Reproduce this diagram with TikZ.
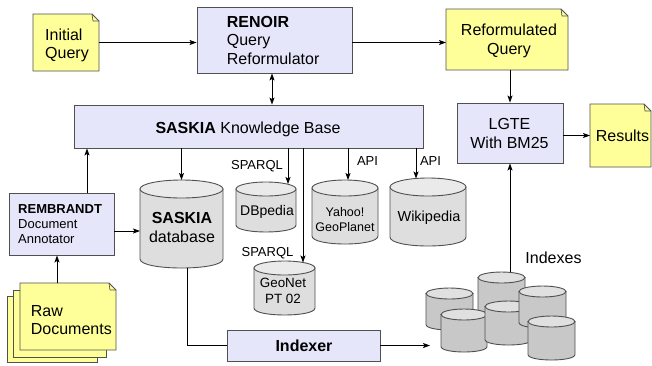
\documentclass[tikz,border=0pt]{standalone}
\usepackage{fontspec}
\setmainfont{Liberation Sans}
\usetikzlibrary{arrows.meta}

\definecolor{boxfill}{RGB}{230,230,250}
\definecolor{notefill}{RGB}{255,255,153}
\definecolor{edgegray}{RGB}{80,80,80}
\definecolor{dbbody}{RGB}{222,222,222}
\definecolor{dbtop}{RGB}{234,234,234}
\definecolor{ixbody}{RGB}{200,200,200}
\definecolor{ixtop}{RGB}{224,224,224}

\tikzset{
  frame/.style={draw=edgegray, line width=0.9pt},
  box/.style={frame, fill=boxfill, inner sep=0pt},
  notebody/.style={frame, fill=notefill, line join=miter},
  fold/.style={draw=edgegray, line width=0.7pt},
  tip/.tip={Stealth[length=7pt,width=5pt,inset=1.5pt]},
  arr/.style={-tip, line width=0.8pt},
  dblarr/.style={tip-tip, line width=0.8pt},
  plain/.style={line width=0.8pt},
  txt/.style={inner sep=0pt, font=\fontsize{16}{18.5}\selectfont},
  txtsm/.style={inner sep=0pt, font=\fontsize{13}{15.4}\selectfont},
  lbl/.style={inner sep=0pt, anchor=base, font=\fontsize{13}{15}\selectfont},
  hold/.style={inner sep=0pt, outer sep=0pt},
}

% note with a folded top-right corner: name, x1, y1, x2, y2
\newcommand\notenode[5]{%
  \draw[notebody] (#2,#3) -- ({#4-7},#3) -- (#4,{#3+7}) -- (#4,#5) -- (#2,#5) -- cycle;
  \draw[fold] ({#4-7},#3) -- ({#4-6},{#3+7}) -- (#4,{#3+7});
  \node[hold, minimum width={(#4-#2)*1pt}, minimum height={(#5-#3)*1pt}] (#1) at ({(#2+#4)/2},{(#3+#5)/2}) {};
}

% cylinder: name, x1, y1 (top), x2, y2 (bottom), half height of the end, colour set
\newcommand\dbcyl[7]{%
  \draw[frame, fill=#7body] (#2,{#3+#6}) -- (#2,{#5-#6}) .. controls (#2,{#5+#6/3}) and (#4,{#5+#6/3}) .. (#4,{#5-#6}) -- (#4,{#3+#6}) -- cycle;
  \draw[frame, fill=#7top] ({(#2+#4)/2},{#3+#6}) ellipse [x radius={(#4-#2)/2*1pt}, y radius={#6*1pt}];
  \node[hold, minimum width={(#4-#2)*1pt}, minimum height={(#5-#3)*1pt}] (#1) at ({(#2+#4)/2},{(#3+#5)/2}) {};
}

\begin{document}
\begin{tikzpicture}[x=1pt,y=-1pt]
\useasboundingbox (0,0) rectangle (652,365);

% ---- notes ----
\notenode{iq}{33}{14}{99}{71}
\node[txt, align=left, anchor=west] (iqtext) at (45,45.2) {Initial\\Query};

\notenode{rq}{446}{9}{568}{70}
\node[txt, align=center] (rqtext) at (509,41) {Reformulated\\Query};

\notenode{res}{590}{104}{651}{167}
\node[txt] (restext) at (622.5,136) {Results};

\draw[notebody] (7,296) rectangle (97,362);
\draw[notebody] (13,290) rectangle (106,357);
\notenode{raw}{20}{283}{116}{350}
\node[txt, align=left, anchor=west] (rawtext) at (30.7,320.2) {Raw\\Documents};

% ---- processing boxes ----
\node[box, minimum width=155pt, minimum height=66pt] (renoir) at (274.5,40) {};
\node[txt, align=left, anchor=west] (renoirtext) at (226.7,40) {\textbf{RENOIR}\\Query\\Reformulator};

\node[box, minimum width=349pt, minimum height=43pt] (kb) at (248.5,126.5) {};
\node[txt] (kbtext) at (248,129.3) {\textbf{SASKIA} Knowledge Base};

\node[box, minimum width=106pt, minimum height=60pt] (lgte) at (510,133) {};
\node[txt, align=center] (lgtetext) at (509.5,133.5) {LGTE\\With BM25};

\node[box, minimum width=105pt, minimum height=62pt] (rem) at (61.5,224) {};
\node[txtsm, align=left, anchor=west] (remtext) at (18,224) {\textbf{REMBRANDT}\\Document\\Annotator};

\node[box, minimum width=153pt, minimum height=31pt] (idx) at (303.5,345.5) {};
\node[txt] (idxtext) at (304,346) {\textbf{Indexer}};

% ---- data stores ----
\dbcyl{sdb}{140}{180}{223}{268}{9}{db}
\node[txt, align=center] (sdbtext) at (182,227.5) {\textbf{SASKIA}\\database};

\dbcyl{dbp}{236}{182}{296}{232}{7}{db}
\node[inner sep=0pt, font=\fontsize{14}{16}\selectfont] (dbptext) at (267,212) {DBpedia};

\dbcyl{yah}{312}{180}{378}{244}{8}{db}
\node[inner sep=0pt, font=\fontsize{12.5}{15}\selectfont, align=center] (yahtext) at (345,219.7) {Yahoo!\\GeoPlanet};

\dbcyl{wiki}{390}{178}{466}{246}{9}{db}
\node[inner sep=0pt, font=\fontsize{14.5}{17}\selectfont] (wikitext) at (429,218) {Wikipedia};

\dbcyl{geo}{254}{261}{315}{315}{7}{db}
\node[inner sep=0pt, font=\fontsize{13.4}{15.6}\selectfont, align=center] (geotext) at (283,290.7) {GeoNet\\PT 02};

% index files, back to front
\dbcyl{ixa}{426}{288}{473}{330}{5.5}{ix}
\dbcyl{ixb}{478}{272}{525}{335}{5.5}{ix}
\dbcyl{ixe}{441}{309}{487}{352}{5.5}{ix}
\dbcyl{ixd}{485}{301}{532}{345}{5.5}{ix}
\dbcyl{ixc}{519}{286}{566}{328}{5.5}{ix}
\dbcyl{ixf}{528}{316}{575}{360}{5.5}{ix}

% ---- connector end points ----
\coordinate (dbpin) at ([xshift=22pt,yshift=-2pt]dbp.north);
\coordinate (geoin) at ([xshift=18.5pt,yshift=-1.5pt]geo.north);
\coordinate (yahin) at ([xshift=3pt]yah.north);
\coordinate (wikiin) at ([xshift=-12pt,yshift=-0.5pt]wiki.north);
\coordinate (remout) at ([xshift=25.5pt]rem.north);
\coordinate (remright) at ([yshift=-7pt]rem.east);
\coordinate (rawout) at ([xshift=-11pt]raw.north);
\coordinate (sdbout) at ([xshift=5.5pt]sdb.south);
\coordinate (renoirdown) at ([xshift=-2.5pt]renoir.south);
\coordinate (ixin) at (430,345.5);

% ---- connectors ----
\draw[arr] (iq.east) -- (iq.east -| renoir.west);
\draw[arr] (renoir.east |- iq.east) -- (rq.west |- iq.east);
\draw[dblarr] (renoirdown) -- (renoirdown |- kb.north);
\draw[arr] (lgte.north |- rq.south) -- (lgte.north);
\draw[arr] (lgte.east |- res.west) -- (res.west);

\draw[arr] (sdb.north |- kb.south) -- (sdb.north);
\draw[arr] (dbpin |- kb.south) -- (dbpin);
\draw[arr] (geoin |- kb.south) -- (geoin);
\draw[arr] (yahin |- kb.south) -- (yahin);
\draw[arr] (wikiin |- kb.south) -- (wikiin);

\draw[arr] (remout) -- (remout |- kb.south);
\draw[arr] (remright) -- (remright -| sdb.west);
\draw[arr] (rawout) -- (rawout |- rem.south);

\draw[plain] (sdbout) |- (idx.west);
\draw[arr] (idx.east) -- (ixin);
\draw[arr] (lgte.south |- ixb.north) -- (lgte.south);

% ---- connector labels ----
\node[lbl] (sparqla) at (257,169.5) {SPARQL};
\node[lbl] (sparqlb) at (267.5,256.5) {SPARQL};
\node[lbl] (apia) at (367.5,165) {API};
\node[lbl] (apib) at (430.5,165.5) {API};
\node[lbl, font=\fontsize{16}{18}\selectfont] (ixlbl) at (553.5,263.3) {Indexes};
\end{tikzpicture}
\end{document}
